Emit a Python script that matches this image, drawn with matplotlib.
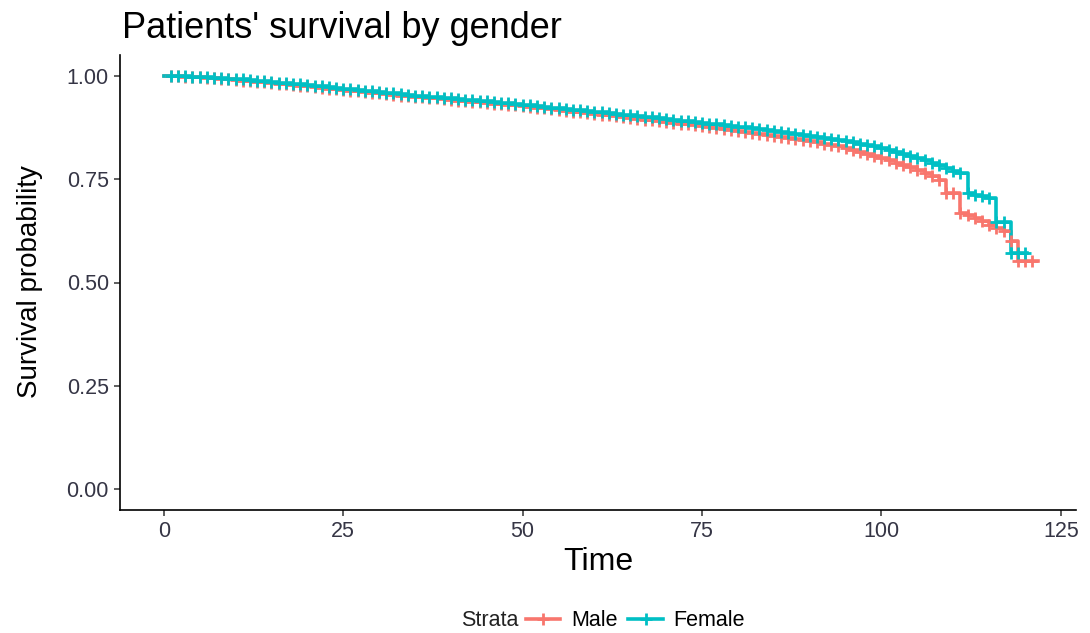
import matplotlib
matplotlib.use("Agg")
import matplotlib.pyplot as plt
from matplotlib.lines import Line2D
from matplotlib.ticker import FormatStrFormatter

plt.rcParams['font.family'] = ['Liberation Sans', 'DejaVu Sans']

# ---- data ----
strata = ["Male", "Female"]
colors = ["#F8766D", "#00BFC4"]

male_time = list(range(0, 122))
male_surv = [
    1.000, 1.000, 0.999, 0.998, 0.997, 0.996, 0.995, 0.994, 0.993, 0.991,
    0.990, 0.988, 0.987, 0.985, 0.984, 0.982, 0.980, 0.979, 0.977, 0.976,
    0.974, 0.972, 0.971, 0.969, 0.968, 0.966, 0.964, 0.962, 0.960, 0.959,
    0.957, 0.955, 0.954, 0.952, 0.951, 0.949, 0.948, 0.946, 0.945, 0.943,
    0.942, 0.940, 0.939, 0.937, 0.936, 0.934, 0.932, 0.931, 0.929, 0.928,
    0.926, 0.924, 0.922, 0.921, 0.919, 0.917, 0.915, 0.913, 0.912, 0.910,
    0.908, 0.906, 0.904, 0.902, 0.900, 0.898, 0.896, 0.894, 0.892, 0.890,
    0.888, 0.886, 0.884, 0.882, 0.880, 0.878, 0.876, 0.873, 0.871, 0.868,
    0.866, 0.864, 0.862, 0.859, 0.857, 0.855, 0.852, 0.850, 0.847, 0.845,
    0.842, 0.839, 0.836, 0.833, 0.830, 0.826, 0.821, 0.816, 0.811, 0.806,
    0.800, 0.795, 0.790, 0.785, 0.779, 0.772, 0.765, 0.757, 0.749, 0.717,
    0.717, 0.669, 0.662, 0.655, 0.648, 0.640, 0.632, 0.625, 0.600, 0.551,
    0.551, 0.551,
]
male_end = 121.8

female_time = list(range(0, 121))
female_surv = [
    1.000, 1.000, 0.999, 0.999, 0.998, 0.997, 0.996, 0.995, 0.994, 0.993,
    0.992, 0.991, 0.989, 0.988, 0.986, 0.985, 0.983, 0.982, 0.980, 0.979,
    0.977, 0.975, 0.974, 0.972, 0.971, 0.969, 0.967, 0.965, 0.963, 0.962,
    0.960, 0.958, 0.957, 0.955, 0.954, 0.952, 0.951, 0.949, 0.948, 0.946,
    0.945, 0.944, 0.942, 0.941, 0.939, 0.938, 0.936, 0.935, 0.933, 0.932,
    0.930, 0.928, 0.926, 0.925, 0.923, 0.921, 0.919, 0.918, 0.916, 0.915,
    0.913, 0.911, 0.909, 0.908, 0.906, 0.904, 0.902, 0.900, 0.899, 0.897,
    0.895, 0.893, 0.891, 0.890, 0.888, 0.886, 0.884, 0.882, 0.881, 0.879,
    0.877, 0.875, 0.873, 0.870, 0.868, 0.866, 0.864, 0.862, 0.859, 0.857,
    0.855, 0.852, 0.850, 0.847, 0.845, 0.842, 0.839, 0.836, 0.833, 0.829,
    0.824, 0.820, 0.815, 0.810, 0.805, 0.800, 0.795, 0.789, 0.783, 0.777,
    0.770, 0.765, 0.717, 0.712, 0.708, 0.704, 0.647, 0.647, 0.572, 0.572,
    0.572,
]
female_end = 120.3

x_ticks = [0, 25, 50, 75, 100, 125]
y_ticks = [0.00, 0.25, 0.50, 0.75, 1.00]

series = [
    (male_time, male_surv, male_end),
    (female_time, female_surv, female_end),
]

# ---- figure ----
W, H = 1090, 633
fig = plt.figure(figsize=(W / 100, H / 100), dpi=100)
ax = fig.add_axes([120 / W, 1 - 510 / H, (1076 - 120) / W, (510 - 55) / H])

for (t, s, end), col in zip(series, colors):
    tt = list(t) + [end]
    ss = list(s) + [s[-1]]
    ax.step(tt, ss, where='post', color=col, lw=2.6, zorder=2)
    ax.plot(t[1:], s[1:], ls='none', marker='+', ms=9, mew=2.0,
            color=col, zorder=3)

ax.set_xlim(-6.1, 127.1)
ax.set_ylim(-0.05, 1.05)
ax.set_xticks(x_ticks)
ax.set_yticks(y_ticks)
ax.yaxis.set_major_formatter(FormatStrFormatter('%.2f'))
for sp in ['top', 'right']:
    ax.spines[sp].set_visible(False)
for sp in ['left', 'bottom']:
    ax.spines[sp].set_color('black')
    ax.spines[sp].set_linewidth(1.2)
ax.tick_params(axis='both', direction='out', length=4, width=1.1,
               color='#333333', labelsize=15.5, labelcolor='#353545', pad=4)

fig.text(122 / W, 1 - 38 / H, "Patients' survival by gender",
         ha='left', va='baseline', fontsize=26, color='black')
fig.text(598 / W, 1 - 562 / H, "Time", ha='center', va='center',
         fontsize=23, color='black')
fig.text(30 / W, 1 - 282 / H, "Survival probability", ha='center',
         va='center', rotation=90, fontsize=20, color='black')

# legend
handles = [Line2D([], [], color=c, lw=2.6, marker='+', ms=9, mew=2.0)
           for c in colors]
leg = fig.legend(handles, strata, loc='center left',
                 bbox_to_anchor=(526 / W, 1 - 621 / H), ncol=2,
                 frameon=False, fontsize=15.5, handlelength=1.6,
                 handletextpad=0.5, columnspacing=0.5, borderpad=0,
                 borderaxespad=0)
fig.text(518 / W, 1 - 621 / H, "Strata", ha='right', va='center',
         fontsize=15.5, color='#222222')

fig.savefig("out.png", dpi=100)
